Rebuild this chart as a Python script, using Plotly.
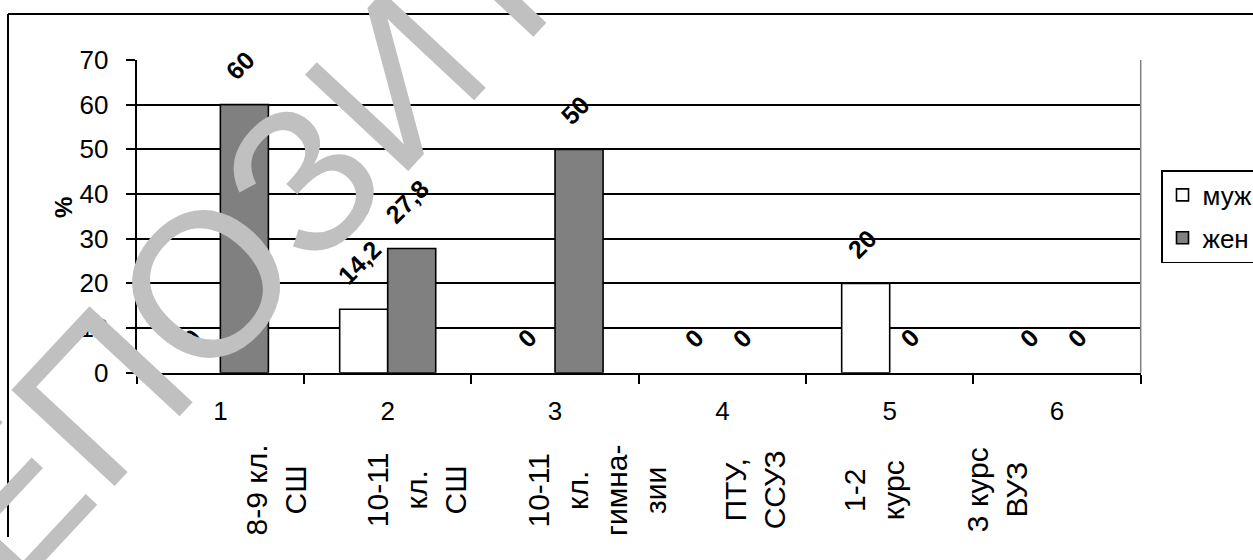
import plotly.graph_objects as go

# Data: share (%) by education level, two groups
categories = ["1", "2", "3", "4", "5", "6"]
category_texts = [
    "8-9 кл.<br>СШ",
    "10-11<br>кл.<br>СШ",
    "10-11<br>кл.<br>гимна-<br>зии",
    "ПТУ,<br>ССУЗ",
    "1-2<br>курс",
    "3 курс<br>ВУЗ",
]
men = [0, 14.2, 0, 0, 20, 0]
women = [60, 27.8, 50, 0, 0, 0]
series_names = ["муж", "жен"]

# Horizontal offsets (in category units) of the rotated category texts
text_offsets = [0.335, 0.17, 0.251, 0.197, -0.093, -0.358]

FONT = "Liberation Sans, Arial, sans-serif"
W, H = 1253, 560
BARGAP = 0.426


def bar_heights(values):
    # empty bars are left undrawn so the axis line stays uniform
    return [v if v else None for v in values]


fig = go.Figure()
fig.add_trace(go.Bar(
    x=categories, y=bar_heights(men), name=series_names[0],
    marker=dict(color="white", line=dict(color="black", width=1.6)),
    legendgroup="a",
))
fig.add_trace(go.Bar(
    x=categories, y=bar_heights(women), name=series_names[1],
    marker=dict(color="#808080", line=dict(color="black", width=1.6)),
    legendgroup="b",
))

annotations = []

# Rotated value labels above each bar
half = (1 - BARGAP) / 4


def fmt(v):
    return f"{v:g}".replace(".", ",")


for i, (m, w) in enumerate(zip(men, women)):
    for v, dx in ((m, -half), (w, half)):
        annotations.append(dict(
            x=i + dx, y=v, xref="x", yref="y",
            text=fmt(v), showarrow=False, textangle=-45,
            xanchor="center", yanchor="bottom", xshift=-4, yshift=17,
            font=dict(family=FONT, size=25, color="black", weight="bold"),
        ))

# Vertical category descriptions under the axis numbers
for i, (t, off) in enumerate(zip(category_texts, text_offsets)):
    annotations.append(dict(
        x=i + off, y=1 - 490 / H, xref="x", yref="paper",
        text=t, showarrow=False, textangle=-90, align="center",
        xanchor="center", yanchor="middle",
        font=dict(family=FONT, size=30, color="black"),
    ))

# Axis title
annotations.append(dict(
    x=63 / W, y=1 - 208 / H, xref="paper", yref="paper",
    text="%", showarrow=False, textangle=-90,
    xanchor="center", yanchor="middle",
    font=dict(family=FONT, size=24, color="black", weight="bold"),
))

# Repository watermark
annotations.append(dict(
    x=396 / W, y=1 - 80 / H, xref="paper", yref="paper",
    text="РЕПОЗИТОРИЙ", showarrow=False, textangle=-47,
    xanchor="center", yanchor="middle",
    font=dict(family=FONT, size=205, color="#c0c0c0"),
))

shapes = [
    # plot-area right border
    dict(type="line", xref="x domain", yref="y domain", x0=1, x1=1, y0=0, y1=1,
         line=dict(color="#808080", width=1.5)),
    # chart frame (top and left)
    dict(type="line", xref="paper", yref="paper", x0=8 / W, x1=1.02,
         y0=1 - 14 / H, y1=1 - 14 / H, line=dict(color="black", width=2)),
    dict(type="line", xref="paper", yref="paper", x0=8 / W, x1=8 / W,
         y0=1 - 14 / H, y1=1 - 537 / H, line=dict(color="black", width=2)),
]

fig.update_layout(
    width=W, height=H,
    margin=dict(l=0, r=0, t=0, b=0, autoexpand=False),
    paper_bgcolor="white", plot_bgcolor="white",
    barmode="group", bargap=BARGAP, bargroupgap=0,
    font=dict(family=FONT, color="black"),
    xaxis=dict(
        type="category", categoryorder="array", categoryarray=categories,
        domain=[136.7 / W, 1140.7 / W],
        showline=True, linecolor="black", linewidth=2,
        ticks="outside", tickson="boundaries", ticklen=9, tickwidth=1.5,
        tickcolor="black", showgrid=False,
        tickfont=dict(family=FONT, size=26, color="black"),
        ticklabelstandoff=14,
    ),
    yaxis=dict(
        range=[0, 70], dtick=10, domain=[1 - 372.7 / H, 1 - 60 / H],
        showline=True, linecolor="black", linewidth=2,
        ticks="outside", ticklen=9, tickwidth=1.5, tickcolor="black",
        showgrid=True, gridcolor="black", gridwidth=1.5, zeroline=False,
        tickfont=dict(family=FONT, size=26, color="black"),
        ticklabelstandoff=12,
    ),
    legend=dict(
        x=1161 / W, y=1 - 170 / H, xanchor="left", yanchor="top",
        bordercolor="black", borderwidth=1.5, bgcolor="white",
        font=dict(family=FONT, size=26, color="black"),
        traceorder="grouped", tracegroupgap=6,
    ),
    showlegend=True,
    annotations=annotations,
    shapes=shapes,
)

fig.write_html("out.html")
